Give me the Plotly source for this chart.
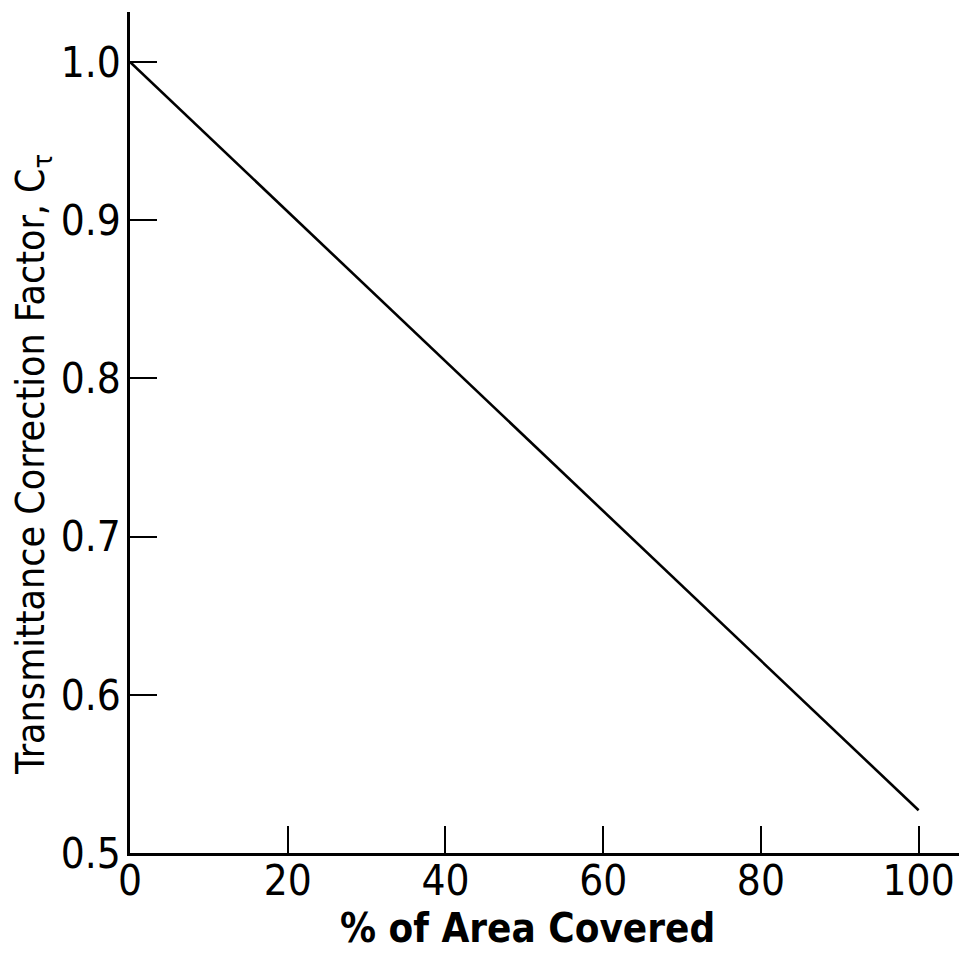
import plotly.graph_objects as go

# Data
area_covered = [0, 100]
correction_factor = [1.0, 0.527]

x_tick_vals = [0, 20, 40, 60, 80, 100]
x_tick_text = ["0", "20", "40", "60", "80", "100"]
y_tick_vals = [0.5, 0.6, 0.7, 0.8, 0.9, 1.0]
y_tick_text = ["0.5", "0.6", "0.7", "0.8", "0.9", "1.0"]

x_title = "% of Area Covered"
y_title = "Transmittance Correction Factor, C<sub>τ</sub>"

FONT = "DejaVu Sans Condensed, Liberation Sans Narrow, Arial Narrow, sans-serif"

fig = go.Figure()
fig.add_trace(go.Scatter(
    x=area_covered, y=correction_factor, mode="lines",
    line=dict(color="black", width=2.6), showlegend=False, hoverinfo="skip",
))

axis_common = dict(
    showline=True, linecolor="black", linewidth=2.6, mirror=False,
    showgrid=False, zeroline=False, automargin=False,
    ticks="inside", tickcolor="black", tickwidth=2.4, ticklen=27,
    tickfont=dict(family=FONT, size=42, color="black"),
)

fig.update_xaxes(range=[0, 105.5], tickmode="array", tickvals=x_tick_vals,
                 ticktext=x_tick_text, ticklabelstandoff=-11, **axis_common)
fig.update_yaxes(range=[0.5, 1.0316], tickmode="array", tickvals=y_tick_vals,
                 ticktext=y_tick_text, ticklabelstandoff=-2, **axis_common)

fig.add_annotation(text=x_title, xref="paper", yref="paper",
                   x=(527 - 130) / 832, y=(853 - 928) / 841,
                   xanchor="center", yanchor="middle", showarrow=False,
                   font=dict(family=FONT, size=40, color="black", weight="bold"))
fig.add_annotation(text=y_title, xref="paper", yref="paper",
                   x=(33 - 130) / 832, y=(853 - 465) / 841, textangle=-90,
                   xanchor="center", yanchor="middle", showarrow=False,
                   font=dict(family=FONT, size=39, color="black"))

# The page body has an 8 px margin, so the figure is sized/offset to compensate
fig.update_layout(
    width=959, height=946,
    margin=dict(l=122, r=5, t=4, b=101),
    paper_bgcolor="white", plot_bgcolor="white",
)

fig.write_html("out.html")
